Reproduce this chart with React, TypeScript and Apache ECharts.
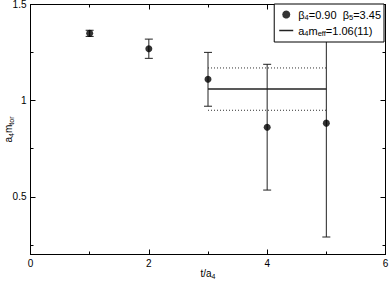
import React, { useEffect, useRef } from 'react';
import * as echarts from 'echarts';

// ---- data ----
const tValues = [1, 2, 3, 4, 5];
const mValues = [1.35, 1.27, 1.111, 0.862, 0.883];
const mErrors = [0.016, 0.05, 0.14, 0.327, 0.592];
const fitT = [3, 5];
const fitValue = 1.06;
const fitError = 0.11;
const yTickLabels = [0.5, 1, 1.5];
const seriesNames = ['beta', 'fit'];

const FONT = '"Liberation Sans", Arial, Helvetica, sans-serif';
const rich = {
  n: { fontSize: 10, lineHeight: 13, fontFamily: FONT, color: '#000' },
  s: { fontSize: 7, lineHeight: 8, fontFamily: FONT, color: '#000', verticalAlign: 'bottom' as const },
};
const legendRich = {
  n: { fontSize: 11, lineHeight: 13, fontFamily: FONT, color: '#000' },
  s: { fontSize: 7.5, lineHeight: 8, fontFamily: FONT, color: '#000', verticalAlign: 'bottom' as const },
};
const legendText: Record<string, string> = {
  beta: '{n|β}{s|4}{n|=0.90  β}{s|5}{n|=3.45}',
  fit: '{n|a}{s|4}{n|m}{s|eff}{n|=1.06(11)}',
};

export default function App() {
  const ref = useRef<HTMLDivElement>(null);
  useEffect(() => {
    if (!ref.current) return;
    const chart = echarts.init(ref.current, undefined, { renderer: 'svg' });
    const black = '#000';
    const xBase = {
      type: 'value' as const,
      min: 0,
      max: 6,
      interval: 2,
      axisLine: { show: true, lineStyle: { color: black, width: 1 } },
      axisTick: { show: true, inside: true, length: 5, lineStyle: { color: black } },
      minorTick: { show: true, splitNumber: 2, length: 3, lineStyle: { color: black } },
      splitLine: { show: false },
      minorSplitLine: { show: false },
    };
    const yMajor = {
      type: 'value' as const,
      min: 0.2,
      max: 1.5,
      splitNumber: 3,
      minInterval: 0.5,
      maxInterval: 0.5,
      axisLine: { show: true, lineStyle: { color: black, width: 1 } },
      axisTick: { show: true, inside: true, length: 5, lineStyle: { color: black } },
      splitLine: { show: false },
    };
    const yMinor = {
      type: 'value' as const,
      min: 0.2,
      max: 1.5,
      splitNumber: 6,
      minInterval: 0.25,
      maxInterval: 0.25,
      axisLine: { show: false },
      axisLabel: { show: false },
      axisTick: { show: true, inside: true, length: 3, lineStyle: { color: black } },
      splitLine: { show: false },
    };
    chart.setOption({
      animation: false,
      backgroundColor: '#fff',
      grid: { left: 30.5, right: 4.5, top: 4.5, bottom: 26.5, outerBoundsMode: 'none' },
      legend: {
        orient: 'vertical',
        right: 6,
        top: 4,
        backgroundColor: '#fff',
        borderColor: black,
        borderWidth: 1,
        padding: [5, 3, 5, 5],
        itemGap: 4,
        itemWidth: 14,
        itemHeight: 8,
        textStyle: { fontFamily: FONT, fontSize: 11, color: black, rich: legendRich },
        formatter: (name: string) => legendText[name],
        data: [
          { name: seriesNames[0], icon: 'circle' },
          { name: seriesNames[1], icon: 'path://M0,0 H14 V1.5 H0 Z', itemStyle: { color: '#222' } },
        ],
      },
      xAxis: [
        {
          ...xBase,
          position: 'bottom',
          axisLabel: { color: black, fontSize: 10, fontFamily: FONT, margin: 4 },
          name: '{n|t/a}{s|4}',
          nameLocation: 'middle',
          nameGap: 12,
          nameMoveOverlap: false,
          nameTextStyle: { rich },
        },
        { ...xBase, position: 'top', axisLabel: { show: false } },
      ],
      yAxis: [
        {
          ...yMajor,
          position: 'left',
          axisLabel: {
            color: black,
            fontSize: 10,
            fontFamily: FONT,
            margin: 4,
            showMinLabel: false,
            formatter: (v: number) => (yTickLabels.some((t) => Math.abs(t - v) < 1e-6) ? String(v) : ''),
          },
          name: '{n|a}{s|4}{n|m}{s|tor}',
          nameLocation: 'middle',
          nameGap: 16,
          nameRotate: 90,
          nameMoveOverlap: false,
          nameTextStyle: { rich },
        },
        { ...yMinor, position: 'left' },
        { ...yMajor, position: 'right', axisLabel: { show: false } },
        { ...yMinor, position: 'right' },
      ],
      series: [
        {
          type: 'custom',
          name: 'err',
          xAxisIndex: 0,
          yAxisIndex: 0,
          data: tValues.map((t, i) => [t, mValues[i] - mErrors[i], mValues[i] + mErrors[i]]),
          encode: { x: 0, y: [1, 2] },
          renderItem: (params: any, api: any) => {
            const x = api.value(0);
            const lo = api.coord([x, api.value(1)]);
            const hi = api.coord([x, api.value(2)]);
            const w = 4;
            const style = { stroke: '#222', lineWidth: 1 };
            return {
              type: 'group',
              children: [
                { type: 'line', shape: { x1: hi[0], y1: hi[1], x2: lo[0], y2: lo[1] }, style },
                { type: 'line', shape: { x1: hi[0] - w, y1: hi[1], x2: hi[0] + w, y2: hi[1] }, style },
                { type: 'line', shape: { x1: lo[0] - w, y1: lo[1], x2: lo[0] + w, y2: lo[1] }, style },
              ],
            };
          },
          z: 2,
        },
        {
          type: 'scatter',
          name: seriesNames[0],
          data: tValues.map((t, i) => [t, mValues[i]]),
          symbol: 'circle',
          symbolSize: 7,
          itemStyle: { color: black },
          z: 3,
        },
        {
          type: 'line',
          name: seriesNames[1],
          data: fitT.map((t) => [t, fitValue]),
          symbol: 'none',
          lineStyle: { color: '#222', width: 1.5 },
          itemStyle: { color: '#222' },
          z: 2,
        },
        {
          type: 'line',
          name: 'upper',
          data: fitT.map((t) => [t, fitValue + fitError]),
          symbol: 'none',
          lineStyle: { color: '#333', width: 1, type: [1, 2] },
          z: 1,
        },
        {
          type: 'line',
          name: 'lower',
          data: fitT.map((t) => [t, fitValue - fitError]),
          symbol: 'none',
          lineStyle: { color: '#333', width: 1, type: [1, 2] },
          z: 1,
        },
      ],
    });
    return () => chart.dispose();
  }, []);
  return (
    <div
      ref={ref}
      style={{ position: 'fixed', left: 0, top: 0, width: 390, height: 281, background: '#fff' }}
    />
  );
}
